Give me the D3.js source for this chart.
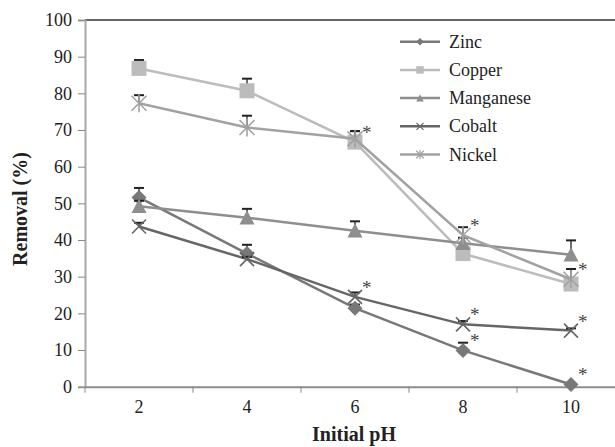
<!DOCTYPE html>
<html>
<head>
<meta charset="utf-8">
<script src="https://cdn.jsdelivr.net/npm/d3@7"></script>
<style>
  body { margin: 0; background: #fff; }
</style>
</head>
<body>
<svg id="chart"></svg>
<script>
'use strict';

// data
var phLevels = ['2', '4', '6', '8', '10'];
var yTicks = [0, 10, 20, 30, 40, 50, 60, 70, 80, 90, 100];

var metals = ['Zinc', 'Copper', 'Manganese', 'Cobalt', 'Nickel'];
var zinc      = [51.6, 36.3, 21.4, 9.9, 0.6];
var copper    = [86.8, 80.7, 66.7, 36.3, 28.0];
var manganese = [49.2, 46.1, 42.5, 39.1, 36.0];
var cobalt    = [43.7, 34.8, 24.5, 17.0, 15.3];
var nickel    = [77.3, 70.7, 67.6, 41.3, 29.3];

// upper error bars
var zincErr      = [2.6, 2.4, 1.0, 2.1, 0];
var copperErr    = [2.3, 3.3, 3.0, 0.8, 0.8];
var manganeseErr = [1.5, 2.4, 2.6, 1.5, 3.9];
var cobaltErr    = [1.0, 0.6, 1.2, 0.9, 0.6];
var nickelErr    = [2.2, 3.2, 2.1, 2.2, 2.8];

// significance asterisks: [metal, pH]
var starred = [['Copper', '6'], ['Cobalt', '6'], ['Nickel', '8'], ['Cobalt', '8'],
               ['Zinc', '8'], ['Nickel', '10'], ['Cobalt', '10'], ['Zinc', '10']];

var values = { Zinc: zinc, Copper: copper, Manganese: manganese, Cobalt: cobalt, Nickel: nickel };
var errors = { Zinc: zincErr, Copper: copperErr, Manganese: manganeseErr, Cobalt: cobaltErr, Nickel: nickelErr };
var colors = { Zinc: '#787878', Copper: '#bcbcbc', Manganese: '#8e8e8e', Cobalt: '#666666', Nickel: '#a2a2a2' };
var markers = { Zinc: 'diamond', Copper: 'square', Manganese: 'triangle', Cobalt: 'x', Nickel: 'star' };

var FONT = 'Liberation Serif';

var canvasWidth = 615;
var canvasHeight = 447;
var margin = { top: 20, left: 85 };
var plotRight = 625; // the frame runs past the right edge of the picture
var plotBottom = 386.7;

var svg = d3.select('#chart')
  .attr('width', canvasWidth)
  .attr('height', canvasHeight);

var xScale = d3.scaleBand().domain(phLevels).range([margin.left, plotRight]);
var yScale = d3.scaleLinear().domain([0, 100]).range([plotBottom, margin.top]);
var cx = function(ph) { return xScale(ph) + xScale.bandwidth() / 2; };

// marker shapes, k scales them down for the legend
function markerPath(type, k) {
  var p = d3.path();
  var r;
  if (type === 'diamond') {
    r = 7.5 * k;
    p.moveTo(0, -r); p.lineTo(r, 0); p.lineTo(0, r); p.lineTo(-r, 0); p.closePath();
  } else if (type === 'square') {
    r = 7.5 * k;
    p.rect(-r, -r, 2 * r, 2 * r);
  } else if (type === 'triangle') {
    r = 7.5 * k;
    p.moveTo(0, -r); p.lineTo(r, r * 0.9); p.lineTo(-r, r * 0.9); p.closePath();
  } else if (type === 'x') {
    r = 7 * k;
    p.moveTo(-r, -r); p.lineTo(r, r); p.moveTo(r, -r); p.lineTo(-r, r);
  } else {
    r = 7.5 * k;
    p.moveTo(-r, -r); p.lineTo(r, r); p.moveTo(r, -r); p.lineTo(-r, r);
    p.moveTo(0, -r * 1.2); p.lineTo(0, r * 1.2);
  }
  return p.toString();
}
function isStroked(type) { return type === 'x' || type === 'star'; }

// frame top
svg.append('line')
  .attr('x1', margin.left).attr('x2', plotRight)
  .attr('y1', margin.top).attr('y2', margin.top)
  .attr('stroke', '#333').attr('stroke-width', 1.5);

// y axis
var yAxis = svg.append('g')
  .attr('transform', 'translate(' + margin.left + ',0)')
  .call(d3.axisLeft(yScale).tickValues(yTicks).tickSize(7).tickPadding(6));
yAxis.select('.domain').attr('stroke', '#a8a8a8').attr('stroke-width', 2);
yAxis.selectAll('.tick line').attr('stroke', '#888');
yAxis.selectAll('.tick text')
  .attr('font-family', FONT).attr('font-size', 18).attr('fill', '#222');

// x axis with ticks between categories
var xAxis = svg.append('g')
  .attr('transform', 'translate(0,' + plotBottom + ')')
  .call(d3.axisBottom(xScale).tickSize(0).tickPadding(14));
xAxis.select('.domain').attr('stroke', '#8c8c8c').attr('stroke-width', 2);
xAxis.selectAll('.tick text')
  .attr('font-family', FONT).attr('font-size', 18).attr('fill', '#222');
xAxis.selectAll('.sep')
  .data(phLevels)
  .enter()
  .append('line')
  .attr('x1', d => xScale(d)).attr('x2', d => xScale(d))
  .attr('y1', 0).attr('y2', 6)
  .attr('stroke', '#888');

// axis titles
svg.append('text')
  .attr('x', 354).attr('y', 441)
  .attr('text-anchor', 'middle')
  .attr('fill', '#222')
  .attr('font-family', FONT).attr('font-size', 20).attr('font-weight', 'bold')
  .text('Initial pH');
svg.append('text')
  .attr('transform', 'translate(27,209) rotate(-90)')
  .attr('text-anchor', 'middle')
  .attr('fill', '#222')
  .attr('font-family', FONT).attr('font-size', 20).attr('font-weight', 'bold')
  .text('Removal (%)');

var line = d3.line()
  .x(d => cx(d.ph))
  .y(d => yScale(d.v));

metals.forEach(function(m) {
  var pts = phLevels.map(function(ph, i) {
    return { ph: ph, v: values[m][i], e: errors[m][i] };
  });
  var g = svg.append('g');

  g.append('path')
    .datum(pts)
    .attr('d', line)
    .attr('fill', 'none')
    .attr('stroke', colors[m])
    .attr('stroke-width', 2.5);

  // error bars
  var eb = g.selectAll('.err')
    .data(pts.filter(d => d.e > 0))
    .enter()
    .append('g');
  eb.append('line')
    .attr('x1', d => cx(d.ph)).attr('x2', d => cx(d.ph))
    .attr('y1', d => yScale(d.v)).attr('y2', d => yScale(d.v + d.e))
    .attr('stroke', '#222').attr('stroke-width', 1.3);
  eb.append('line')
    .attr('x1', d => cx(d.ph) - 5).attr('x2', d => cx(d.ph) + 5)
    .attr('y1', d => yScale(d.v + d.e)).attr('y2', d => yScale(d.v + d.e))
    .attr('stroke', '#222').attr('stroke-width', 2);

  g.selectAll('.mark')
    .data(pts)
    .enter()
    .append('path')
    .attr('transform', d => 'translate(' + cx(d.ph) + ',' + yScale(d.v) + ')')
    .attr('d', markerPath(markers[m], 1))
    .attr('fill', isStroked(markers[m]) ? 'none' : colors[m])
    .attr('stroke', colors[m])
    .attr('stroke-width', isStroked(markers[m]) ? 1.6 : 0);
});

// asterisks
svg.selectAll('.star')
  .data(starred)
  .enter()
  .append('text')
  .attr('x', d => cx(d[1]) + 7)
  .attr('y', d => yScale(values[d[0]][phLevels.indexOf(d[1])]) - 3)
  .attr('font-family', FONT).attr('font-size', 19)
  .attr('fill', '#444')
  .text('*');

// legend
var legend = svg.append('g').attr('transform', 'translate(400,41.7)');
metals.forEach(function(m, i) {
  var row = legend.append('g').attr('transform', 'translate(0,' + (i * 28.2) + ')');
  row.append('line')
    .attr('x1', 0).attr('x2', 40)
    .attr('stroke', colors[m]).attr('stroke-width', 2.5);
  row.append('path')
    .attr('transform', 'translate(20,0)')
    .attr('d', markerPath(markers[m], 0.5))
    .attr('fill', isStroked(markers[m]) ? 'none' : colors[m])
    .attr('stroke', colors[m])
    .attr('stroke-width', isStroked(markers[m]) ? 1.2 : 0);
  row.append('text')
    .attr('x', 49).attr('y', 6)
    .attr('fill', '#222')
    .attr('font-family', FONT).attr('font-size', 18)
    .text(m);
});
</script>
</body>
</html>
